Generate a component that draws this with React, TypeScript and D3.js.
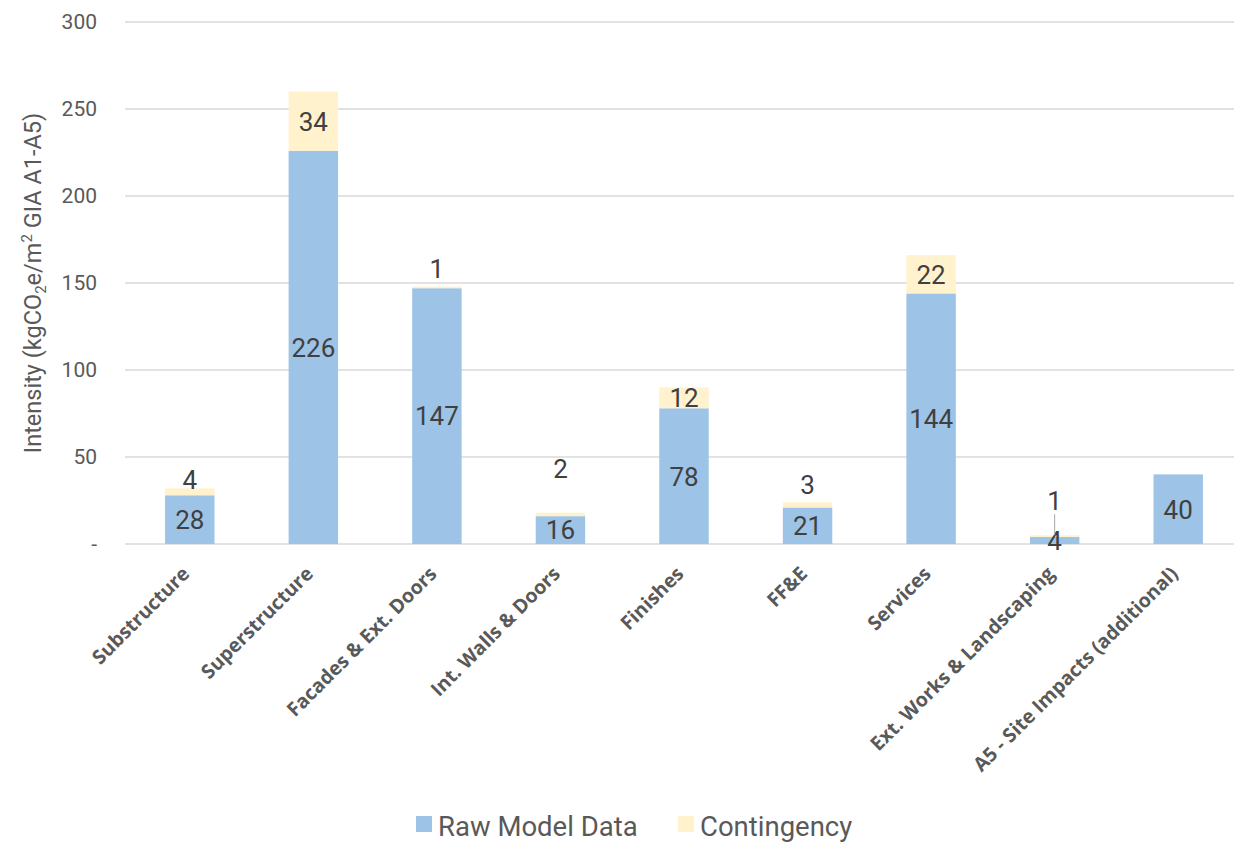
import React, { useEffect, useRef } from 'react';
import * as d3 from 'd3';

const categories = [
  'Substructure',
  'Superstructure',
  'Facades & Ext. Doors',
  'Int. Walls & Doors',
  'Finishes',
  'FF&E',
  'Services',
  'Ext. Works & Landscaping',
  'A5 - Site Impacts (additional)',
];
const rawModel = [28, 226, 147, 16, 78, 21, 144, 4, 40];
const contingency = [4, 34, 1, 2, 12, 3, 22, 1, 0];
const yTicks = [0, 50, 100, 150, 200, 250, 300];
const seriesNames = ['Raw Model Data', 'Contingency'];

// small contingency labels sit above the bar (px lift from segment top), 0 = centred
const labelLift = [9, 0, 18, 44, 0, 18, 0, 35, 0];

const W = 1234;
const H = 843;
const margin = { top: 22, right: -6, bottom: 299, left: 128 };
const BLUE = '#9DC3E6';
const CREAM = '#FFF2CC';
const FONT = 'Roboto, "Liberation Sans", sans-serif';

export default function App() {
  const ref = useRef<SVGSVGElement>(null);

  useEffect(() => {
    const svg = d3.select(ref.current);
    svg.selectAll('*').remove();

    const x = d3.scaleBand().domain(categories).range([margin.left, W - margin.right]).paddingInner(0.6).paddingOuter(0.3);
    const y = d3.scaleLinear().domain([0, 300]).range([H - margin.bottom, margin.top]);

    // grid
    svg.append('g')
      .selectAll('line')
      .data(yTicks)
      .join('line')
      .attr('x1', margin.left - 3)
      .attr('x2', W - margin.right)
      .attr('y1', d => y(d))
      .attr('y2', d => y(d))
      .attr('stroke', '#d9d9d9')
      .attr('stroke-width', 1.3);

    // y tick labels
    svg.append('g')
      .selectAll('text')
      .data(yTicks)
      .join('text')
      .attr('x', 97)
      .attr('y', d => y(d))
      .attr('dy', '0.35em')
      .attr('text-anchor', 'end')
      .attr('fill', '#595959')
      .attr('font-family', FONT)
      .attr('font-size', 21)
      .text(d => (d === 0 ? '-' : String(d)));

    // y title
    const yt = svg.append('text')
      .attr('transform', `translate(41,${(y(0) + y(300)) / 2}) rotate(-90)`)
      .attr('text-anchor', 'middle')
      .attr('fill', '#595959')
      .attr('font-family', FONT)
      .attr('font-size', 23.5);
    yt.append('tspan').text('Intensity (kgCO');
    yt.append('tspan').attr('font-size', 15).attr('dy', 5).text('2');
    yt.append('tspan').attr('dy', -5).text('e/m');
    yt.append('tspan').attr('font-size', 15).attr('dy', -9).text('2');
    yt.append('tspan').attr('dy', 9).text(' GIA A1-A5)');

    const idx = d3.range(categories.length);

    // raw bars
    svg.append('g')
      .selectAll('rect')
      .data(idx)
      .join('rect')
      .attr('x', i => x(categories[i])!)
      .attr('width', x.bandwidth())
      .attr('y', i => y(rawModel[i]))
      .attr('height', i => y(0) - y(rawModel[i]))
      .attr('fill', BLUE);

    // contingency bars
    svg.append('g')
      .selectAll('rect')
      .data(idx.filter(i => contingency[i] > 0))
      .join('rect')
      .attr('x', i => x(categories[i])!)
      .attr('width', x.bandwidth())
      .attr('y', i => y(rawModel[i] + contingency[i]))
      .attr('height', i => y(rawModel[i]) - y(rawModel[i] + contingency[i]))
      .attr('fill', CREAM);

    const cx = (i: number) => x(categories[i])! + x.bandwidth() / 2;

    // raw labels
    svg.append('g')
      .selectAll('text')
      .data(idx)
      .join('text')
      .attr('x', cx)
      .attr('y', i => (y(0) + y(rawModel[i])) / 2)
      .attr('dy', '0.36em')
      .attr('text-anchor', 'middle')
      .attr('fill', '#404040')
      .attr('font-family', FONT)
      .attr('font-size', 26)
      .text(i => rawModel[i]);

    // leader line for Ext. Works
    const ext = 7;
    svg.append('line')
      .attr('x1', cx(ext))
      .attr('x2', cx(ext))
      .attr('y1', y(rawModel[ext] + contingency[ext]) - labelLift[ext] + 14)
      .attr('y2', y(rawModel[ext] + contingency[ext]))
      .attr('stroke', '#a6a6a6')
      .attr('stroke-width', 1);

    // contingency labels
    svg.append('g')
      .selectAll('text')
      .data(idx.filter(i => contingency[i] > 0))
      .join('text')
      .attr('x', cx)
      .attr('y', i => {
        const top = y(rawModel[i] + contingency[i]);
        return labelLift[i] ? top - labelLift[i] : (top + y(rawModel[i])) / 2;
      })
      .attr('dy', '0.36em')
      .attr('text-anchor', 'middle')
      .attr('fill', '#404040')
      .attr('font-family', FONT)
      .attr('font-size', 26)
      .text(i => contingency[i]);

    // x labels
    svg.append('g')
      .selectAll('text')
      .data(idx)
      .join('text')
      .attr('transform', i => `translate(${cx(i) + 1},${y(0) + 31}) rotate(-45)`)
      .attr('text-anchor', 'end')
      .attr('fill', '#595959')
      .attr('font-family', '"Open Sans", sans-serif')
      .attr('font-weight', 700)
      .attr('font-size', 19.6)
      .text(i => categories[i]);

    // legend
    const leg = svg.append('g');
    const items = [
      { name: seriesNames[0], color: BLUE, x: 416 },
      { name: seriesNames[1], color: CREAM, x: 678 },
    ];
    items.forEach(it => {
      leg.append('rect').attr('x', it.x).attr('y', 816).attr('width', 16).attr('height', 16).attr('fill', it.color);
      leg.append('text')
        .attr('x', it.x + 22)
        .attr('y', 836)
        .attr('fill', '#595959')
        .attr('font-family', FONT)
        .attr('font-size', 27.5)
        .text(it.name);
    });
  }, []);

  return (
    <svg
      ref={ref}
      width={W}
      height={H}
      style={{ position: 'absolute', left: 0, top: 0, background: '#fff' }}
    />
  );
}
